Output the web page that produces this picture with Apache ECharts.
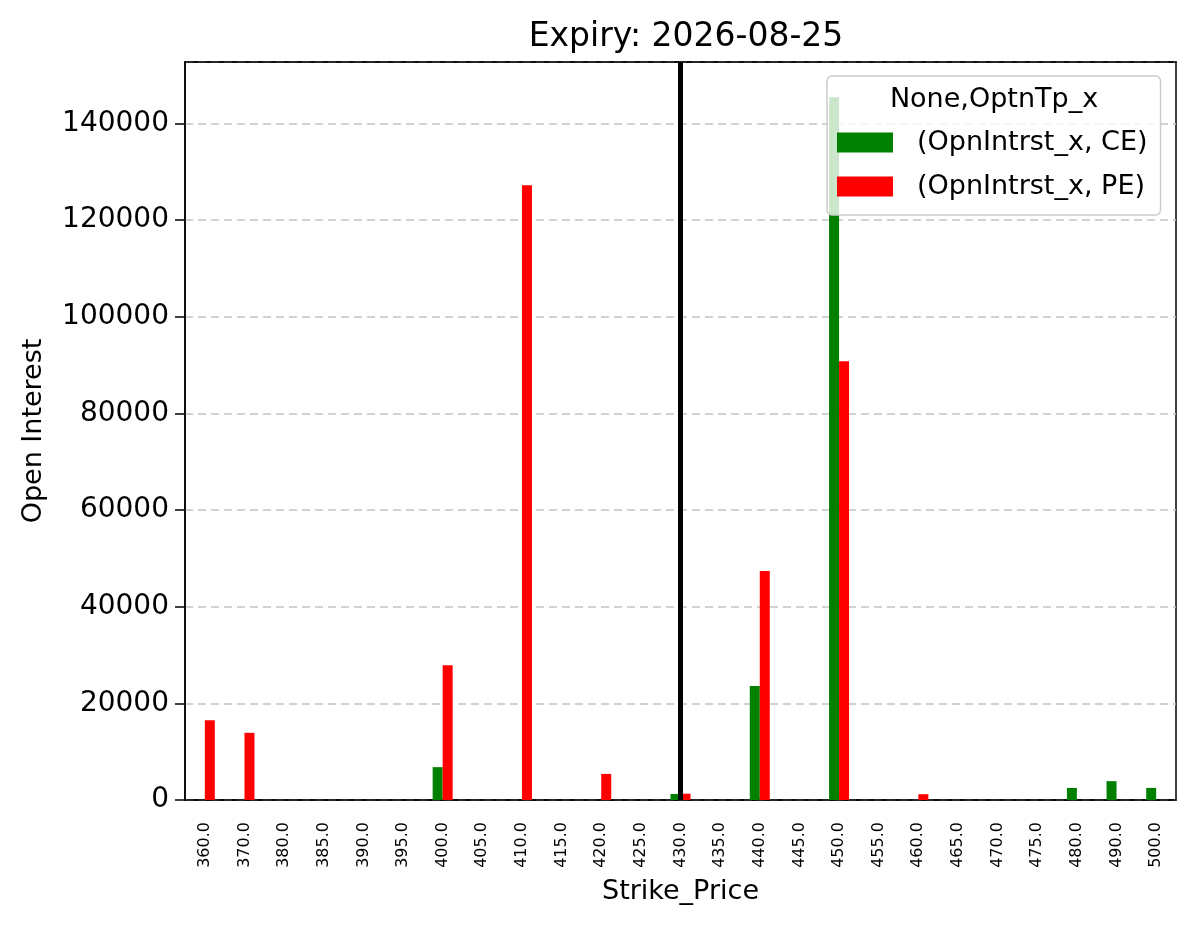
<!DOCTYPE html>
<html>
<head>
<meta charset="utf-8">
<script src="https://cdn.jsdelivr.net/npm/echarts@6/dist/echarts.min.js"></script>
<style>
  html, body { margin: 0; padding: 0; background: #fff; }
  #chart { width: 1196px; height: 928px; }
</style>
</head>
<body>
<div id="chart"></div>
<script>
// strike prices (category axis)
const strikes = ["360.0", "370.0", "380.0", "385.0", "390.0", "395.0", "400.0", "405.0", "410.0", "415.0",
  "420.0", "425.0", "430.0", "435.0", "440.0", "445.0", "450.0", "455.0", "460.0", "465.0",
  "470.0", "475.0", "480.0", "490.0", "500.0"];
// open interest, calls
const ceOI = [0, 0, 0, 0, 0, 0, 6800, 0, 0, 0,
  0, 0, 1250, 0, 23600, 0, 145400, 0, 0, 0,
  0, 0, 2500, 3900, 2500];
// open interest, puts
const peOI = [16500, 13900, 0, 0, 0, 0, 27900, 0, 127200, 0,
  5400, 0, 1300, 0, 47400, 0, 90800, 0, 1200, 0,
  0, 0, 0, 0, 0];
const spotStrike = "430.0";
const titleText = "Expiry: 2026-08-25";
const legendTitle = "None,OptnTp_x";

const FONT = "DejaVu Sans";
let chart = echarts.init(document.getElementById("chart"));

chart.setOption({
  animation: false,
  backgroundColor: "#fff",
  textStyle: { fontFamily: FONT },
  title: {
    text: titleText,
    left: 681,
    top: 16,
    textAlign: "center",
    textStyle: { fontFamily: FONT, fontSize: 33, fontWeight: "normal", color: "#000" }
  },
  grid: {
    left: 185, right: 20, top: 62, bottom: 128,
    show: true, borderColor: "#000", borderWidth: 1.5, backgroundColor: "transparent"
  },
  legend: {
    orient: "vertical",
    left: 827,
    top: 76,
    padding: [53, 13, 15, 10],
    itemWidth: 56,
    itemHeight: 20,
    itemGap: 17,
    icon: "rect",
    backgroundColor: "rgba(255,255,255,0.8)",
    borderColor: "#cccccc",
    borderWidth: 1.5,
    borderRadius: 5,
    textStyle: { fontFamily: FONT, fontSize: 27, color: "#000", lineHeight: 20, padding: [0, 0, 0, 19] },
    data: ["(OpnIntrst_x, CE)", "(OpnIntrst_x, PE)"]
  },
  graphic: [{
    type: "text",
    z: 100,
    x: 994,
    y: 100,
    style: {
      text: legendTitle,
      fill: "#000",
      font: "27px '" + FONT + "'",
      align: "center",
      verticalAlign: "middle"
    }
  }],
  xAxis: [
    {
      type: "category",
      data: strikes,
      name: "Strike_Price",
      nameLocation: "middle",
      nameGap: 78,
      nameTextStyle: { fontFamily: FONT, fontSize: 27, color: "#000" },
      axisLine: { lineStyle: { color: "#000", width: 1.5 } },
      axisTick: { alignWithLabel: true, length: 10, lineStyle: { color: "#000", width: 1.5 } },
      axisLabel: { rotate: 90, interval: 0, margin: 22, fontFamily: FONT, fontSize: 16, color: "#000" },
      splitLine: { show: false }
    },
    {
      // top frame edge, drawn over the dashed grid line at max
      type: "category",
      data: strikes,
      position: "top",
      z: 5,
      axisLine: { show: true, lineStyle: { color: "#000", width: 1.5 } },
      axisTick: { show: false },
      axisLabel: { show: false },
      splitLine: { show: false }
    }
  ],
  yAxis: {
    type: "value",
    min: 0,
    max: 152700,
    interval: 20000,
    name: "Open Interest",
    nameLocation: "middle",
    nameGap: 138,
    nameTextStyle: { fontFamily: FONT, fontSize: 27, color: "#000" },
    axisLine: { show: true, lineStyle: { color: "#000", width: 1.5 } },
    axisTick: { show: true, length: 10, lineStyle: { color: "#000", width: 1.5 } },
    axisLabel: {
      showMaxLabel: false, margin: 16, fontFamily: FONT, fontSize: 28, color: "#000",
      formatter: function (v) { return String(v); }
    },
    splitLine: { show: true, lineStyle: { color: "#c4c4c4", width: 1.5, type: [8, 5] } }
  },
  series: [
    {
      name: "(OpnIntrst_x, CE)",
      type: "bar",
      data: ceOI,
      barWidth: 10,
      barGap: "0%",
      itemStyle: { color: "#008000" }
    },
    {
      name: "(OpnIntrst_x, PE)",
      type: "bar",
      data: peOI,
      barWidth: 10,
      barGap: "0%",
      itemStyle: { color: "#ff0000" }
    },
    {
      // vertical marker at the spot strike
      name: "spot",
      type: "line",
      data: [],
      z: 10,
      markLine: {
        silent: true,
        symbol: ["none", "none"],
        label: { show: false },
        lineStyle: { color: "#000", width: 5, type: "solid" },
        data: [{ xAxis: spotStrike }]
      }
    }
  ]
});
</script>
</body>
</html>
